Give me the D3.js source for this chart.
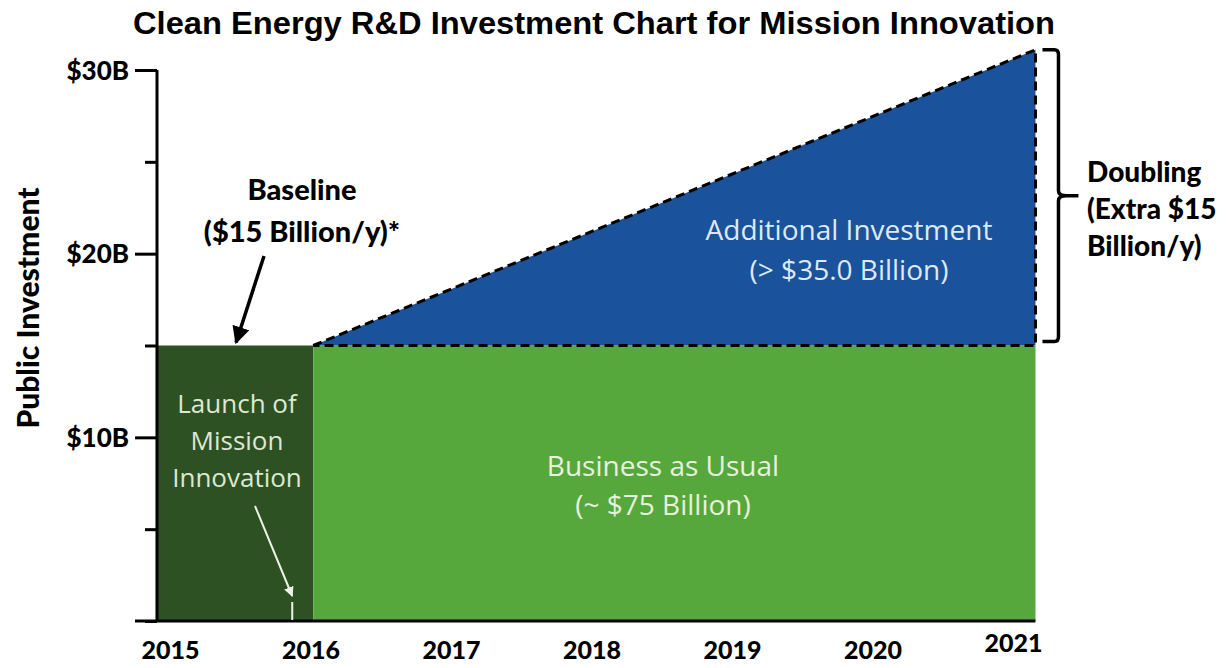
<!DOCTYPE html>
<html>
<head>
<meta charset="utf-8">
<script src="https://cdn.jsdelivr.net/npm/d3@7"></script>
<style>
  body { margin: 0; background: #fff; }
  text { font-family: "Open Sans", "DejaVu Sans", sans-serif; }
</style>
</head>
<body>
<script>
let width = 1230
let height = 668

// data
let years = [2015, 2016, 2017, 2018, 2019, 2020, 2021]
let yTicks = [0, 5, 10, 15, 20, 25, 30]
let yLabels = { 10: "$10B", 20: "$20B", 30: "$30B" }
let periodStart = 2014.9
let launchYear = 2016.02
let periodEnd = 2021.16
let baseline = 15
let doubled = 31.1
let launchMarker = 2015.87

let x = d3.scaleLinear().domain([2015, 2021]).range([170, 1013])
let y = d3.scaleLinear().domain([0, 30]).range([621, 70])

let svg = d3.select("body").append("svg")
    .attr("width", width)
    .attr("height", height)

svg.append("defs").selectAll("marker")
    .data([["arrowBlack", "#000"], ["arrowWhite", "#eef3e8"]])
    .enter().append("marker")
    .attr("id", d => d[0])
    .attr("viewBox", "0 0 10 10")
    .attr("refX", 9).attr("refY", 5)
    .attr("markerWidth", 5).attr("markerHeight", 5)
    .attr("orient", "auto")
    .append("path")
    .attr("d", "M0,0 L10,5 L0,10 z")
    .attr("fill", d => d[1])

// title
svg.append("text")
    .attr("x", 133).attr("y", 34)
    .attr("textLength", 922)
    .attr("lengthAdjust", "spacingAndGlyphs")
    .style("font-family", "'Liberation Sans', Arial, sans-serif")
    .style("font-weight", "bold")
    .style("font-size", "31px")
    .text("Clean Energy R&D Investment Chart for Mission Innovation")

// baseline block (before launch)
svg.append("rect")
    .attr("x", x(periodStart)).attr("y", y(baseline))
    .attr("width", x(launchYear) - x(periodStart))
    .attr("height", y(0) - y(baseline))
    .attr("fill", "#2d5123")

// business as usual
svg.append("rect")
    .attr("x", x(launchYear)).attr("y", y(baseline))
    .attr("width", x(periodEnd) - x(launchYear))
    .attr("height", y(0) - y(baseline))
    .attr("fill", "#57a83c")

// additional investment triangle
let tri = [[launchYear, baseline], [periodEnd, doubled], [periodEnd, baseline]]
let line = d3.line().x(d => x(d[0])).y(d => y(d[1]))
svg.append("path")
    .attr("d", line(tri) + "Z")
    .attr("fill", "#1a539b")
    .attr("stroke", "#000")
    .attr("stroke-width", 3)
    .attr("stroke-dasharray", "9,5")

// y axis
let yAxis = d3.axisLeft(y).tickValues(yTicks)
    .tickSize(0).tickFormat(d => yLabels[d] || "")
let gy = svg.append("g").attr("transform", "translate(157,0)").call(yAxis)
gy.select(".domain").remove()
gy.selectAll(".tick").append("line")
    .attr("x1", d => yLabels[d] ? -22 : -12)
    .attr("x2", 0)
    .attr("stroke", "#000").attr("stroke-width", 3)
gy.selectAll(".tick text")
    .attr("x", -28)
    .attr("dy", "0.35em")
    .style("font-family", "Lato, 'Open Sans', sans-serif")
    .style("font-weight", "900")
    .style("font-size", "26px")
    .attr("fill", "#000")
svg.append("line")
    .attr("x1", 157).attr("x2", 157)
    .attr("y1", y(30)).attr("y2", y(0) + 1)
    .attr("stroke", "#000").attr("stroke-width", 3)

// x axis
svg.append("line")
    .attr("x1", 135).attr("x2", x(periodEnd))
    .attr("y1", y(0)).attr("y2", y(0))
    .attr("stroke", "#000").attr("stroke-width", 3)
let xAxis = d3.axisBottom(x).tickValues(years).tickSize(0).tickFormat(d => d)
let gx = svg.append("g").attr("transform", "translate(0," + y(0) + ")").call(xAxis)
gx.select(".domain").remove()
gx.selectAll(".tick text")
    .attr("y", d => d === 2021 ? 31 : 38)
    .attr("dy", "0")
    .style("font-family", "Lato, 'Open Sans', sans-serif")
    .style("font-weight", "900")
    .style("font-size", "25px")
    .attr("fill", "#000")

// y axis title
svg.append("text")
    .attr("transform", "translate(39,308) rotate(-90)")
    .attr("text-anchor", "middle")
    .style("font-family", "Lato, 'Open Sans', sans-serif")
    .style("font-weight", "900")
    .style("font-size", "30px")
    .text("Public Investment")

// labels inside areas
let addLines = (lines, cx, cy, step, color, size) => {
    svg.append("text")
        .attr("text-anchor", "middle")
        .attr("fill", color)
        .style("font-family", "'Open Sans', sans-serif")
        .style("font-size", size)
        .selectAll("tspan").data(lines).enter().append("tspan")
        .attr("x", cx).attr("y", (d, i) => cy + i * step)
        .text(d => d)
}
addLines(["Additional Investment", "(> $35.0 Billion)"], 849, 240, 40, "#dfe9f5", "28px")
addLines(["Business as Usual", "(~ $75 Billion)"], 663, 476, 39, "#e6f1de", "28px")
addLines(["Launch of", "Mission", "Innovation"], 237, 413, 37, "#dde8d5", "26px")

// baseline annotation
svg.append("text")
    .attr("text-anchor", "middle")
    .style("font-family", "Lato, 'Open Sans', sans-serif")
    .style("font-weight", "900")
    .style("font-size", "29px")
    .selectAll("tspan").data(["Baseline", "($15 Billion/y)*"]).enter().append("tspan")
    .attr("x", 302).attr("y", (d, i) => 200 + i * 42)
    .text(d => d)
svg.append("line")
    .attr("x1", 264).attr("y1", 256)
    .attr("x2", x(2015.47)).attr("y2", y(baseline) - 3)
    .attr("stroke", "#000").attr("stroke-width", 3.5)
    .attr("marker-end", "url(#arrowBlack)")

// launch arrow
svg.append("line")
    .attr("x1", 255).attr("y1", 506)
    .attr("x2", x(launchMarker)).attr("y2", 596)
    .attr("stroke", "#eef3e8").attr("stroke-width", 2)
    .attr("marker-end", "url(#arrowWhite)")
svg.append("line")
    .attr("x1", x(launchMarker)).attr("x2", x(launchMarker))
    .attr("y1", 602).attr("y2", y(0) - 1)
    .attr("stroke", "#eef3e8").attr("stroke-width", 2)

// doubling bracket
let bx = x(periodEnd) + 7
let bTop = y(doubled)
let bBot = y(baseline) - 4
let bMid = (bTop + bBot) / 2
svg.append("path")
    .attr("d", `M${bx},${bTop} H${bx + 12} Q${bx + 16},${bTop} ${bx + 16},${bTop + 5} V${bMid - 5} Q${bx + 16},${bMid} ${bx + 24},${bMid} H${bx + 36} M${bx + 24},${bMid} Q${bx + 16},${bMid} ${bx + 16},${bMid + 5} V${bBot - 5} Q${bx + 16},${bBot} ${bx + 12},${bBot} H${bx}`)
    .attr("fill", "none")
    .attr("stroke", "#000").attr("stroke-width", 3.5)
svg.append("text")
    .attr("text-anchor", "start")
    .style("font-family", "Lato, 'Open Sans', sans-serif")
    .style("font-weight", "900")
    .style("font-size", "28px")
    .selectAll("tspan").data(["Doubling", "(Extra $15", "Billion/y)"]).enter().append("tspan")
    .attr("x", 1087).attr("y", (d, i) => 182 + i * 37)
    .text(d => d)
</script>
</body>
</html>
